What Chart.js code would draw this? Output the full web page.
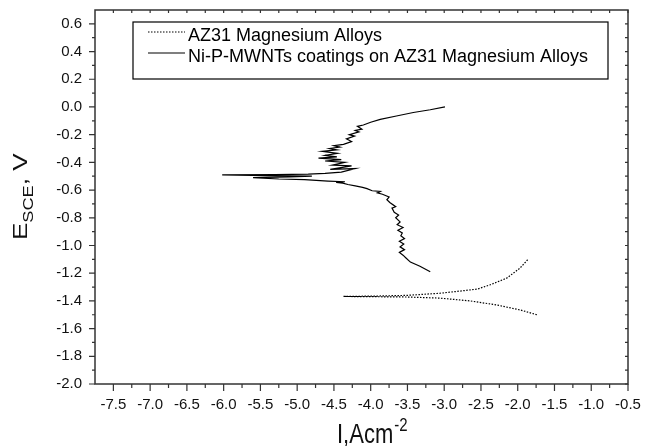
<!DOCTYPE html>
<html>
<head>
<meta charset="utf-8">
<script src="https://cdn.jsdelivr.net/npm/chart.js@4.4.0/dist/chart.umd.min.js"></script>
<style>
  html, body { margin: 0; padding: 0; background: #fff; }
</style>
</head>
<body>
<canvas id="tafel" width="649" height="446"></canvas>
<script>
// ---- data ----
const seriesLabels = ['AZ31 Magnesium Alloys', 'Ni-P-MWNTs coatings on AZ31 Magnesium Alloys'];

// bare AZ31: cathodic branch (lower right) -> Ecorr -> anodic branch (upper right)
const az31LogI = [-1.74, -1.97, -2.29, -2.65, -3.06, -3.50, -3.90, -4.37,
                  -3.90, -3.50, -3.06, -2.80, -2.55, -2.38, -2.15, -1.97, -1.86];
const az31E    = [-1.50, -1.465, -1.429, -1.40, -1.38, -1.372, -1.37, -1.368,
                  -1.365, -1.36, -1.345, -1.33, -1.315, -1.285, -1.236, -1.164, -1.10];

// Ni-P-MWNTs coating, scanned from the bottom end upwards
const coatLogI = [-3.19, -3.33, -3.46, -3.52, -3.56, -3.61, -3.54, -3.60, -3.55, -3.61,
                  -3.54, -3.59, -3.57, -3.63, -3.56, -3.64, -3.60, -3.66, -3.62, -3.68,
                  -3.71, -3.66, -3.74, -3.78, -3.75, -3.84, -3.91, -3.87, -3.98, -4.05,
                  -4.11, -4.21, -4.31, -4.38, -4.47, -4.35, -4.58, -4.90, -5.25, -5.60,
                  -5.10, -4.80, -5.40, -6.02, -5.30, -4.85, -4.62, -4.40, -4.21, -4.55,
                  -4.26, -4.52, -4.35, -4.62, -4.40, -4.71, -4.46, -4.62, -4.45, -4.66,
                  -4.46, -4.56, -4.42, -4.50, -4.37, -4.26, -4.33, -4.22, -4.29, -4.16,
                  -4.21, -4.12, -4.18, -4.10, -4.00, -3.87, -3.65, -3.42, -3.19, -2.99];
const coatE    = [-1.19, -1.15, -1.12, -1.09, -1.07, -1.05, -1.03, -1.01, -0.99, -0.97,
                  -0.95, -0.93, -0.91, -0.89, -0.87, -0.85, -0.83, -0.80, -0.78, -0.76,
                  -0.73, -0.72, -0.69, -0.67, -0.65, -0.63, -0.62, -0.61, -0.605, -0.59,
                  -0.58, -0.57, -0.56, -0.55, -0.545, -0.54, -0.535, -0.525, -0.52, -0.51,
                  -0.505, -0.50, -0.495, -0.49, -0.488, -0.485, -0.48, -0.47, -0.445, -0.45,
                  -0.425, -0.42, -0.40, -0.39, -0.38, -0.37, -0.36, -0.35, -0.335, -0.32,
                  -0.31, -0.30, -0.29, -0.28, -0.27, -0.25, -0.23, -0.21, -0.20, -0.18,
                  -0.17, -0.16, -0.14, -0.13, -0.11, -0.09, -0.065, -0.04, -0.02, 0.00];

const xTicks = [-7.5, -7.0, -6.5, -6.0, -5.5, -5.0, -4.5, -4.0, -3.5, -3.0, -2.5, -2.0, -1.5, -1.0, -0.5];
const yTicks = [-2.0, -1.8, -1.6, -1.4, -1.2, -1.0, -0.8, -0.6, -0.4, -0.2, 0.0, 0.2, 0.4, 0.6];

const FONT = "'Liberation Sans', Arial, sans-serif";

function toPoints(xs, ys) {
    return xs.map((v, i) => ({ x: v, y: ys[i] }));
}

// drop the label overflow padding so the plot box lands where the original has it
function noOverflow(s) {
    s.paddingTop = 0;
    s.paddingBottom = 0;
    s.paddingLeft = 0;
    s.paddingRight = 0;
}

// frame, tick marks, axis titles and boxed legend (Origin style)
const originFrame = {
    id: 'originFrame',
    afterDraw(chart) {
        const { ctx, chartArea: a, scales: { x, y } } = chart;
        ctx.save();

        // ticks
        ctx.strokeStyle = '#333';
        ctx.lineWidth = 1.2;
        ctx.beginPath();
        xTicks.forEach((v, i) => {
            const px = x.getPixelForValue(v);
            ctx.moveTo(px, a.bottom); ctx.lineTo(px, a.bottom + 7);
            ctx.moveTo(px, a.top); ctx.lineTo(px, a.top + 3);
            if (i < xTicks.length - 1) {
                const pm = x.getPixelForValue(v + 0.25);
                ctx.moveTo(pm, a.bottom); ctx.lineTo(pm, a.bottom + 4);
                ctx.moveTo(pm, a.top); ctx.lineTo(pm, a.top + 3);
            }
        });
        yTicks.forEach(v => {
            const py = y.getPixelForValue(v);
            ctx.moveTo(a.left, py); ctx.lineTo(a.left - 6, py);
            ctx.moveTo(a.right, py); ctx.lineTo(a.right - 3, py);
            if (v + 0.1 < 0.69) {
                const pm = y.getPixelForValue(v + 0.1);
                ctx.moveTo(a.left, pm); ctx.lineTo(a.left - 3, pm);
                ctx.moveTo(a.right, pm); ctx.lineTo(a.right - 3, pm);
            }
        });
        ctx.stroke();

        // frame
        ctx.lineWidth = 1.5;
        ctx.strokeRect(a.left, a.top, a.right - a.left, a.bottom - a.top);

        // legend box
        const lx = 133, ly = 22, lw = 475, lh = 57;
        ctx.fillStyle = '#fff';
        ctx.fillRect(lx, ly, lw, lh);
        ctx.strokeStyle = '#000';
        ctx.lineWidth = 1.2;
        ctx.strokeRect(lx, ly, lw, lh);
        chart.data.datasets.forEach((ds, i) => {
            const cy = ly + 10 + i * 21;
            ctx.beginPath();
            ctx.setLineDash(ds.borderDash || []);
            ctx.lineWidth = ds.borderWidth;
            ctx.strokeStyle = '#000';
            ctx.moveTo(148, cy); ctx.lineTo(185, cy);
            ctx.stroke();
            ctx.setLineDash([]);
            ctx.fillStyle = '#000';
            ctx.font = '18px ' + FONT;
            ctx.textBaseline = 'middle';
            ctx.textAlign = 'left';
            ctx.fillText(ds.label, 188, cy + 4);
        });

        ctx.fillStyle = '#111';
        ctx.textBaseline = 'alphabetic';
        ctx.textAlign = 'left';

        // y title: E_SCE, V
        ctx.save();
        ctx.translate(27, 240);
        ctx.rotate(-Math.PI / 2);
        ctx.scale(1.3, 1);
        ctx.font = '20px ' + FONT;
        ctx.fillText('E', 0, 0);
        let off = ctx.measureText('E').width;
        ctx.font = '14px ' + FONT;
        ctx.fillText('SCE', off, 6);
        off += ctx.measureText('SCE').width;
        ctx.font = '20px ' + FONT;
        ctx.fillText(', V', off, 0);
        ctx.restore();

        // x title: I,Acm^-2
        ctx.save();
        ctx.translate(337, 443);
        ctx.scale(1, 1.25);
        ctx.font = '22px ' + FONT;
        ctx.fillText('I,Acm', 0, 0);
        const w = ctx.measureText('I,Acm').width;
        ctx.font = '15px ' + FONT;
        ctx.fillText('-2', w + 1, -10);
        ctx.restore();

        ctx.restore();
    }
};

new Chart(document.getElementById('tafel'), {
    type: 'scatter',
    data: {
        datasets: [
            {
                label: seriesLabels[0],
                data: toPoints(az31LogI, az31E),
                showLine: true,
                borderColor: '#000',
                borderWidth: 1.2,
                borderDash: [1.5, 1.5],
                pointRadius: 0,
                tension: 0
            },
            {
                label: seriesLabels[1],
                data: toPoints(coatLogI, coatE),
                showLine: true,
                borderColor: '#000',
                borderWidth: 1.2,
                pointRadius: 0,
                tension: 0
            }
        ]
    },
    options: {
        responsive: false,
        animation: false,
        layout: { padding: { left: 0, right: 21, top: 10, bottom: 0 } },
        plugins: {
            legend: { display: false },
            tooltip: { enabled: false }
        },
        scales: {
            x: {
                type: 'linear',
                min: -7.75,
                max: -0.5,
                afterBuildTicks: s => { s.ticks = xTicks.map(v => ({ value: v })); },
                afterFit: s => { s.height = 62; noOverflow(s); },
                grid: { display: false, drawTicks: false },
                border: { display: false },
                ticks: {
                    padding: 12,
                    maxRotation: 0,
                    autoSkip: false,
                    color: '#111',
                    font: { family: FONT, size: 15 },
                    callback: v => v.toFixed(1)
                }
            },
            y: {
                type: 'linear',
                min: -2.0,
                max: 0.7,
                afterBuildTicks: s => { s.ticks = yTicks.map(v => ({ value: v })); },
                afterFit: s => { s.width = 95; noOverflow(s); },
                grid: { display: false, drawTicks: false },
                border: { display: false },
                ticks: {
                    padding: 13,
                    autoSkip: false,
                    color: '#111',
                    font: { family: FONT, size: 15 },
                    callback: v => (Math.abs(v) < 1e-9 ? 0 : v).toFixed(1)
                }
            }
        }
    },
    plugins: [originFrame]
});
</script>
</body>
</html>
